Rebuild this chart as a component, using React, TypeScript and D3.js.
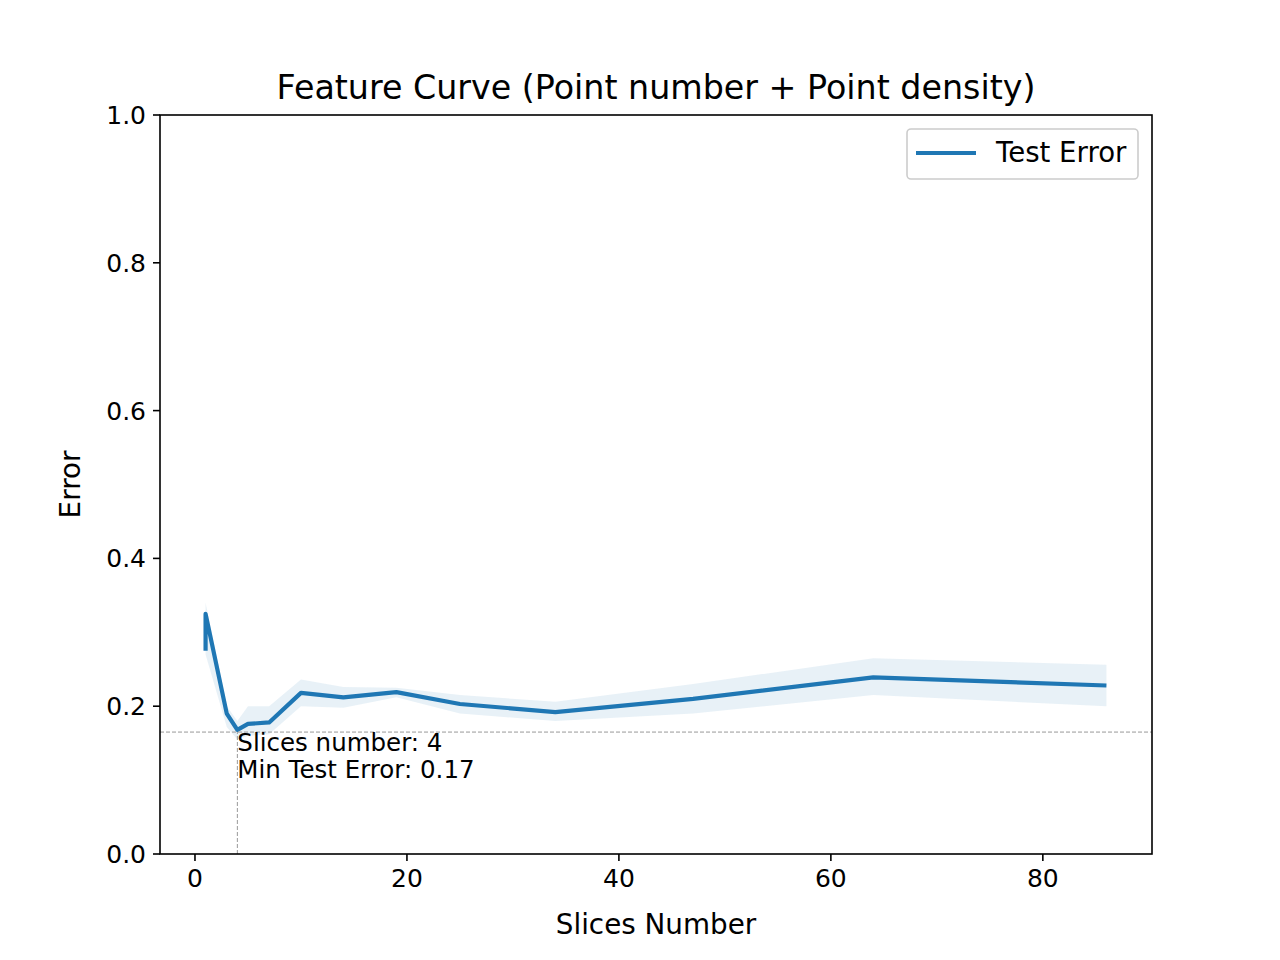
import React from 'react';
import * as d3 from 'd3';

const slices = [1, 1, 3, 4, 5, 7, 10, 14, 19, 25, 34, 47, 64, 86];
const testError = [0.275, 0.325, 0.19, 0.168, 0.176, 0.178, 0.218, 0.212, 0.219, 0.203, 0.192, 0.21, 0.239, 0.228];
const upper = [0.34, 0.34, 0.2, 0.18, 0.2, 0.2, 0.236, 0.226, 0.225, 0.215, 0.206, 0.23, 0.265, 0.256];
const lower = [0.27, 0.27, 0.172, 0.155, 0.16, 0.162, 0.2, 0.198, 0.212, 0.19, 0.18, 0.19, 0.215, 0.2];
const xTicks = [0, 20, 40, 60, 80];
const yTicks = [0, 0.2, 0.4, 0.6, 0.8, 1.0];
const minSlice = 4;
const minError = 0.165;

const width = 1280;
const height = 960;
const margin = { top: 115, right: 128, bottom: 106, left: 160 };
const font = 'DejaVu Sans, sans-serif';

const App: React.FC = () => {
    const x = d3.scaleLinear().domain([-3.3, 90.3]).range([margin.left, width - margin.right]);
    const y = d3.scaleLinear().domain([0, 1]).range([height - margin.bottom, margin.top]);
    const idx = slices.map((_, i) => i);
    const line = d3.line<number>().x(i => x(slices[i])).y(i => y(testError[i]));
    const area = d3.area<number>().x(i => x(slices[i])).y0(i => y(lower[i])).y1(i => y(upper[i]));
    const x0 = margin.left, x1 = width - margin.right, y0 = height - margin.bottom, y1 = margin.top;

    return (
        <svg width={width} height={height} style={{ display: 'block', margin: -8 }} fontFamily={font}>
            <rect width={width} height={height} fill="#fff" />
            <path d={area(idx)!} fill="#1f77b4" fillOpacity={0.1} />
            <path d={line(idx)!} fill="none" stroke="#1f77b4" strokeWidth={4.2} strokeLinejoin="round" />
            <line x1={x0} x2={x1} y1={y(minError)} y2={y(minError)} stroke="#999" strokeWidth={1} strokeDasharray="4,2" />
            <line x1={x(minSlice)} x2={x(minSlice)} y1={y0} y2={y(minError)} stroke="#999" strokeWidth={1} strokeDasharray="4,2" />
            <text x={x(minSlice)} y={y(minError) + 19} fontSize={24.5}>
                <tspan x={x(minSlice)}>Slices number: {minSlice}</tspan>
                <tspan x={x(minSlice)} dy={27}>Min Test Error: {minError.toFixed(2).replace('0.165', '0.17')}</tspan>
            </text>
            <rect x={x0} y={y1} width={x1 - x0} height={y0 - y1} fill="none" stroke="#000" strokeWidth={1.6} />
            {xTicks.map(t => (
                <g key={t}>
                    <line x1={x(t)} x2={x(t)} y1={y0} y2={y0 + 7} stroke="#000" strokeWidth={1.6} />
                    <text x={x(t)} y={y0 + 33} textAnchor="middle" fontSize={25}>{t}</text>
                </g>
            ))}
            {yTicks.map(t => (
                <g key={t}>
                    <line x1={x0 - 7} x2={x0} y1={y(t)} y2={y(t)} stroke="#000" strokeWidth={1.6} />
                    <text x={x0 - 14} y={y(t) + 9} textAnchor="end" fontSize={25}>{t.toFixed(1)}</text>
                </g>
            ))}
            <text x={(x0 + x1) / 2} y={934} textAnchor="middle" fontSize={27.8}>Slices Number</text>
            <text transform={`translate(80,${(y0 + y1) / 2}) rotate(-90)`} textAnchor="middle" fontSize={27.8}>Error</text>
            <text x={(x0 + x1) / 2} y={99} textAnchor="middle" fontSize={33.3}>Feature Curve (Point number + Point density)</text>
            <g>
                <rect x={907} y={129} width={231} height={50} rx={4} fill="#fff" stroke="#ccc" strokeWidth={1.6} />
                <line x1={916} x2={976} y1={153} y2={153} stroke="#1f77b4" strokeWidth={4.2} />
                <text x={996} y={162} fontSize={27.6}>Test Error</text>
            </g>
        </svg>
    );
};

export default App;
